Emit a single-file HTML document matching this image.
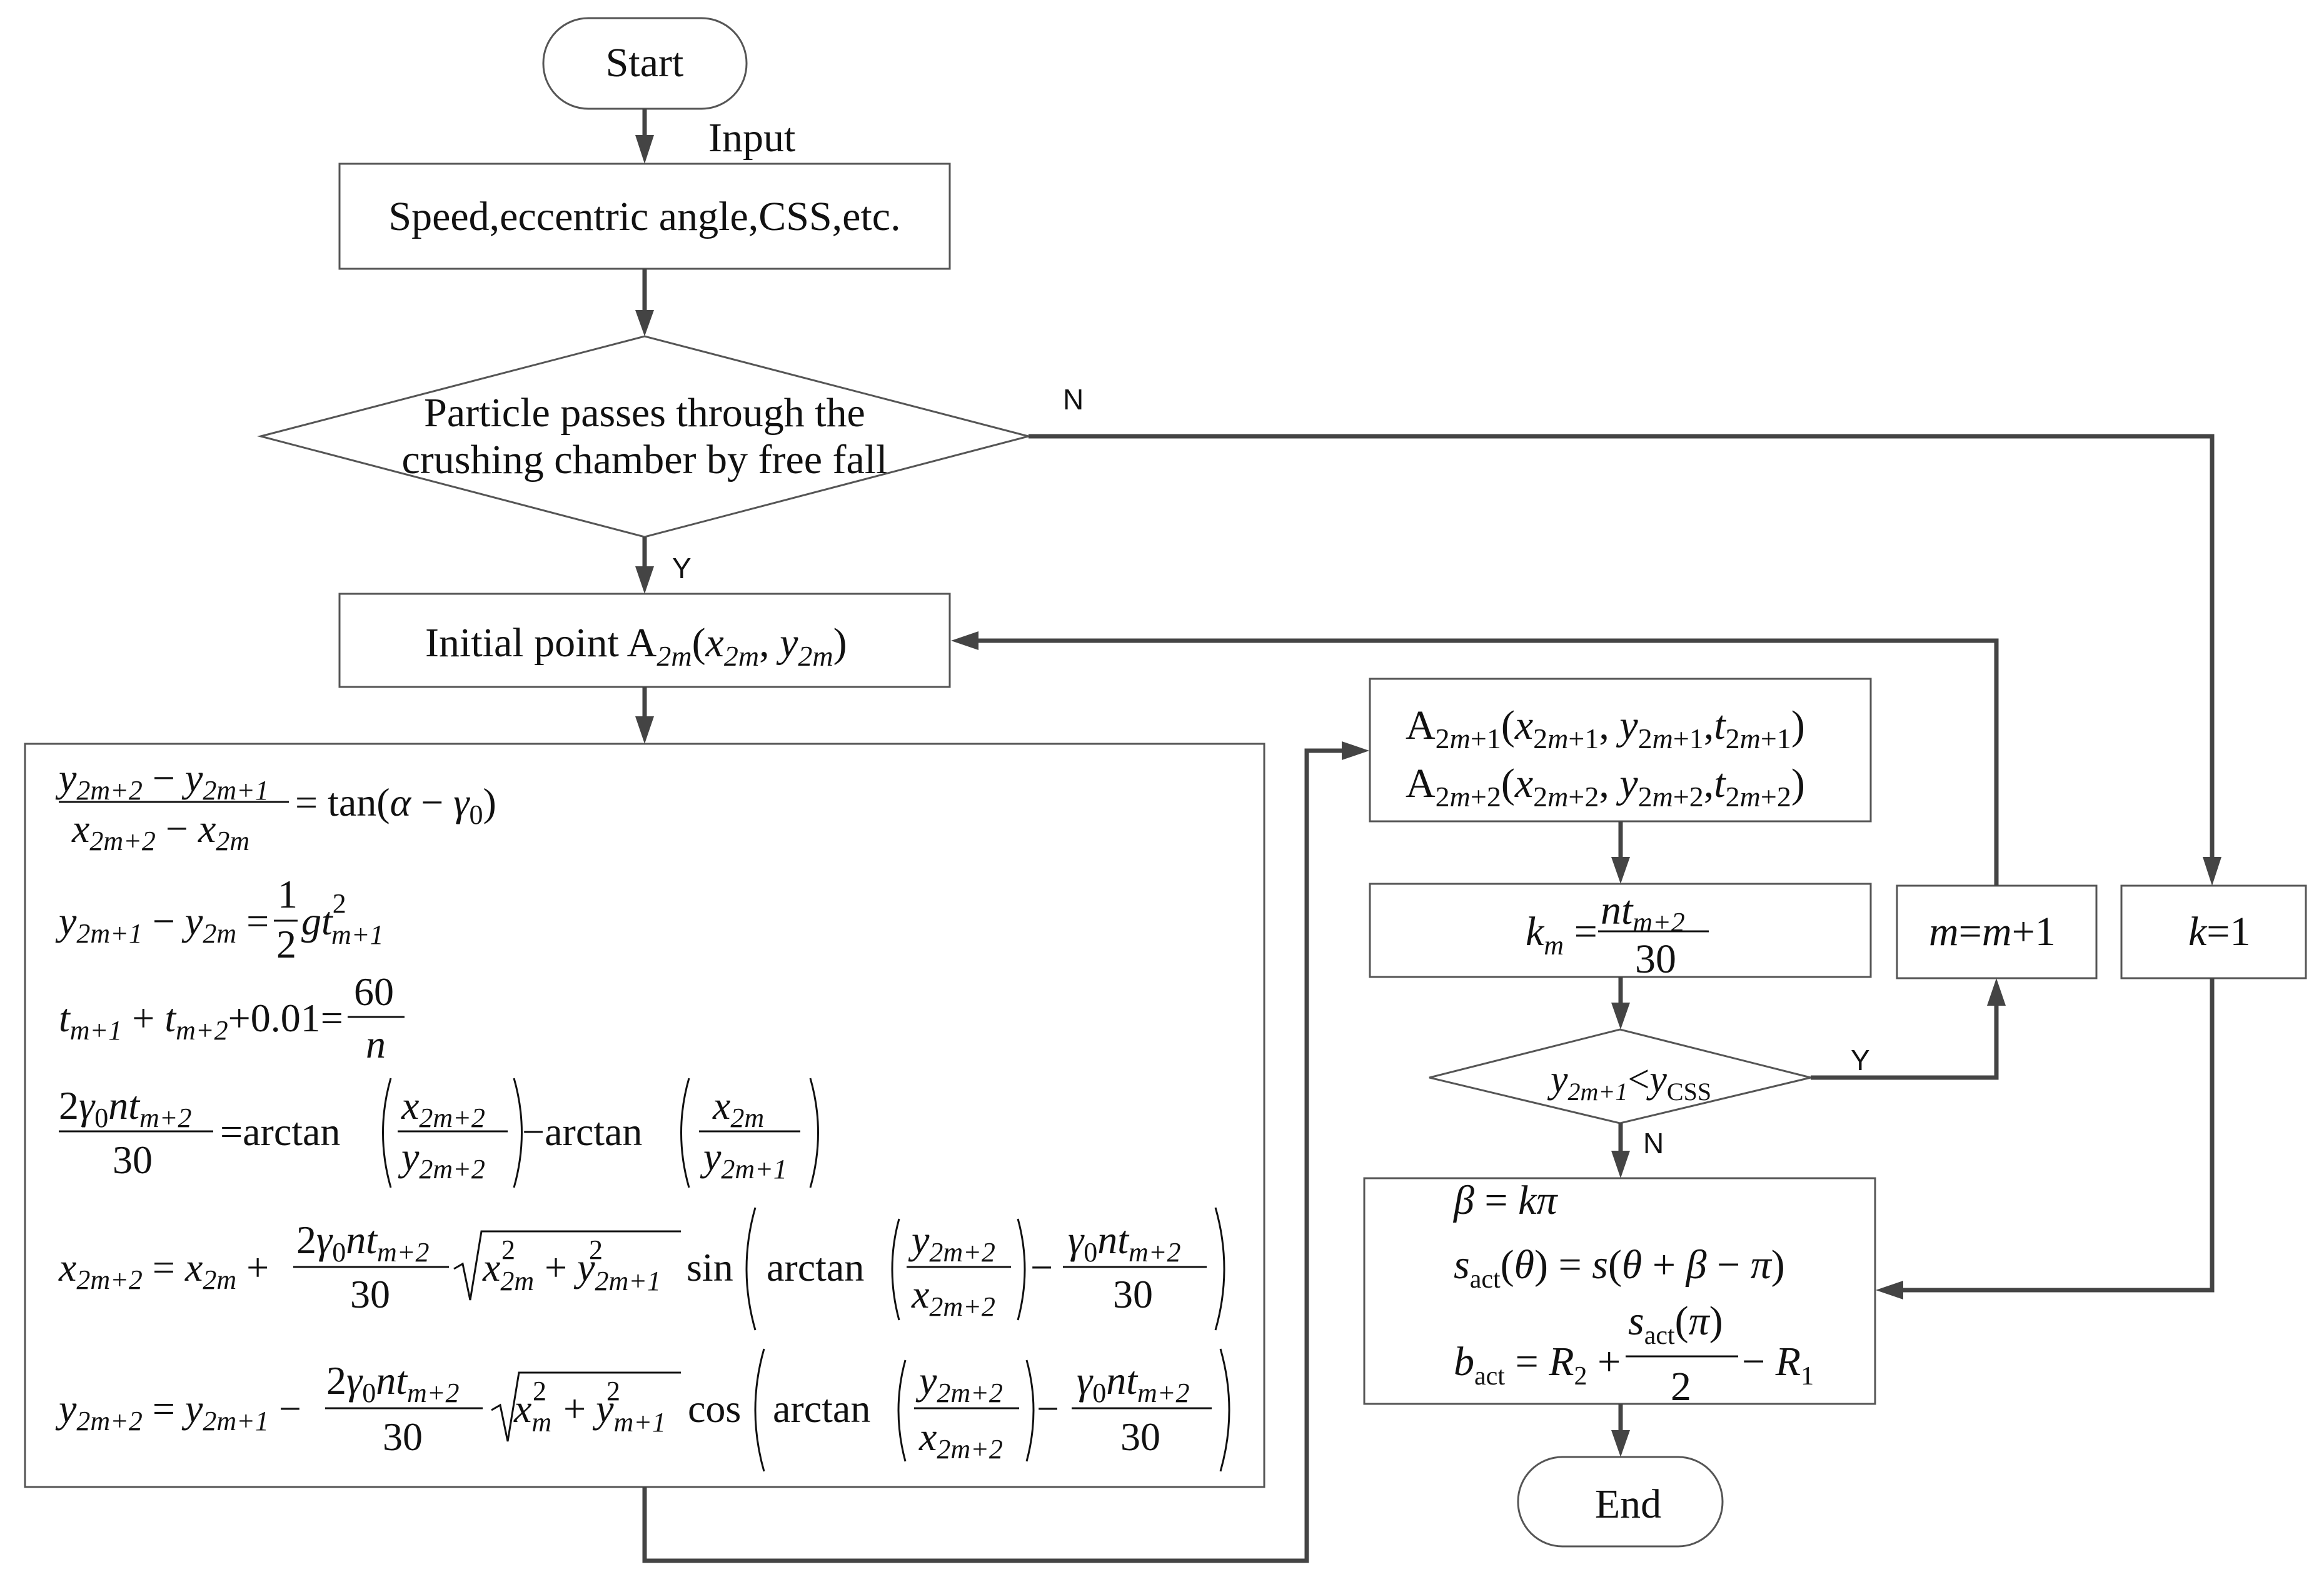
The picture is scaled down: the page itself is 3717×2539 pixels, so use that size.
<!DOCTYPE html>
<html><head><meta charset="utf-8"><style>
html,body{margin:0;padding:0;background:#fff;}
svg{display:block;}
text{font-family:"Liberation Serif",serif;fill:#111;}
.s{font-family:"Liberation Sans",sans-serif;}
.i{font-style:italic;}
</style></head><body>
<svg width="3717" height="2539" viewBox="0 0 3717 2539" xmlns="http://www.w3.org/2000/svg">
<g fill="none" stroke="#555" stroke-width="3">
<rect x="869" y="29" width="325" height="145" rx="72"/>
<rect x="543" y="262" width="976" height="168"/>
<polygon points="417,698 1031,538 1645,698 1031,859"/>
<rect x="543" y="950" width="976" height="149"/>
<rect x="40" y="1190" width="1982" height="1189"/>
<rect x="2191" y="1086" width="801" height="228"/>
<rect x="2191" y="1414" width="801" height="149"/>
<rect x="3034" y="1417" width="319" height="148"/>
<rect x="3393" y="1417" width="295" height="148"/>
<polygon points="2286,1724 2591,1647 2896,1724 2591,1797"/>
<rect x="2182" y="1885" width="817" height="361"/>
<rect x="2428" y="2331" width="327" height="143" rx="71"/>
</g>
<g fill="none" stroke="#444" stroke-width="7">
<path d="M1031 174V220"/><path d="M1031 430V500"/><path d="M1031 859V910"/><path d="M1031 1099V1150"/>
<path d="M1645 698H3538V1375"/>
<path d="M3193 1417V1025H1560"/>
<path d="M1031 2379V2497H2090V1201H2150"/>
<path d="M2592 1314V1375"/><path d="M2592 1563V1608"/><path d="M2592 1797V1845"/><path d="M2592 2246V2292"/>
<path d="M2896 1724H3193V1605"/>
<path d="M3538 1565V2064H3040"/>
</g>
<g fill="#444">
<polygon points="1016,216 1046,216 1031,262"/>
<polygon points="1016,496 1046,496 1031,538"/>
<polygon points="1016,906 1046,906 1031,950"/>
<polygon points="1016,1146 1046,1146 1031,1190"/>
<polygon points="3523,1371 3553,1371 3538,1417"/>
<polygon points="1565,1010 1565,1040 1521,1025"/>
<polygon points="2146,1186 2146,1216 2190,1201"/>
<polygon points="2577,1371 2607,1371 2592,1414"/>
<polygon points="2577,1604 2607,1604 2592,1647"/>
<polygon points="2577,1841 2607,1841 2592,1885"/>
<polygon points="2577,2288 2607,2288 2592,2331"/>
<polygon points="3178,1609 3208,1609 3193,1565"/>
<polygon points="3044,2049 3044,2079 3000,2064"/>
</g>
<g font-size="66">
<text x="1031" y="122" text-anchor="middle">Start</text>
<text x="1133" y="242">Input</text>
<text x="1031" y="368" text-anchor="middle">Speed,eccentric angle,CSS,etc.</text>
<text x="1031" y="682" text-anchor="middle">Particle passes through the</text>
<text x="1031" y="757" text-anchor="middle">crushing chamber by free fall</text>
<text class="s" x="1700" y="655" font-size="46">N</text>
<text class="s" x="1075" y="925" font-size="46">Y</text>
<text class="s" x="2960" y="1712" font-size="46">Y</text>
<text class="s" x="2628" y="1845" font-size="46">N</text>
<text x="680" y="1050">Initial point A<tspan font-size="46" class="i" y="1065">2m</tspan><tspan y="1050">(</tspan><tspan class="i">x</tspan><tspan font-size="46" class="i" y="1065">2m</tspan><tspan y="1050">, </tspan><tspan class="i">y</tspan><tspan font-size="46" class="i" y="1065">2m</tspan><tspan y="1050">)</tspan></text>
<text x="2604" y="2428" text-anchor="middle">End</text>
<text x="2248" y="1182">A<tspan font-size="46" y="1197">2<tspan class="i">m</tspan>+1</tspan><tspan y="1182">(</tspan><tspan class="i">x</tspan><tspan font-size="46" y="1197">2<tspan class="i">m</tspan>+1</tspan><tspan y="1182">, </tspan><tspan class="i">y</tspan><tspan font-size="46" y="1197">2<tspan class="i">m</tspan>+1</tspan><tspan y="1182">,</tspan><tspan class="i">t</tspan><tspan font-size="46" y="1197">2<tspan class="i">m</tspan>+1</tspan><tspan y="1182">)</tspan></text>
<text x="2248" y="1275">A<tspan font-size="46" y="1290">2<tspan class="i">m</tspan>+2</tspan><tspan y="1275">(</tspan><tspan class="i">x</tspan><tspan font-size="46" y="1290">2<tspan class="i">m</tspan>+2</tspan><tspan y="1275">, </tspan><tspan class="i">y</tspan><tspan font-size="46" y="1290">2<tspan class="i">m</tspan>+2</tspan><tspan y="1275">,</tspan><tspan class="i">t</tspan><tspan font-size="46" y="1290">2<tspan class="i">m</tspan>+2</tspan><tspan y="1275">)</tspan></text>
<text x="2440" y="1512"><tspan class="i">k</tspan><tspan class="i" font-size="44" y="1527">m</tspan><tspan y="1512"> =</tspan></text>
<text x="2560" y="1478" class="i">nt<tspan font-size="44" y="1490">m+2</tspan></text>
<line x1="2556" y1="1490" x2="2733" y2="1490" stroke="#111" stroke-width="3"/>
<text x="2615" y="1556">30</text>
<text x="3085" y="1512"><tspan class="i">m</tspan>=<tspan class="i">m</tspan>+1</text>
<text x="3500" y="1512"><tspan class="i">k</tspan>=1</text>
<text x="2480" y="1747" class="i" font-size="62">y<tspan font-size="40" y="1760">2m+1</tspan><tspan y="1747" font-style="normal">&lt;</tspan>y<tspan font-size="40" font-style="normal" y="1760">CSS</tspan></text>
<text x="2325" y="1942" class="i">β <tspan font-style="normal">=</tspan> kπ</text>
<text x="2325" y="2045" class="i">s<tspan font-size="42" font-style="normal" y="2060">act</tspan><tspan y="2045" font-style="normal">(</tspan>θ<tspan font-style="normal">) = </tspan>s<tspan font-style="normal">(</tspan>θ <tspan font-style="normal">+</tspan> β <tspan font-style="normal">−</tspan> π<tspan font-style="normal">)</tspan></text>
<text x="2325" y="2200" class="i">b<tspan font-size="42" font-style="normal" y="2215">act</tspan><tspan y="2200" font-style="normal"> = </tspan>R<tspan font-size="42" font-style="normal" y="2215">2</tspan><tspan y="2200" font-style="normal"> +</tspan></text>
<text x="2604" y="2135" class="i">s<tspan font-size="42" font-style="normal" y="2150">act</tspan><tspan y="2135" font-style="normal">(</tspan>π<tspan font-style="normal">)</tspan></text>
<line x1="2600" y1="2170" x2="2780" y2="2170" stroke="#111" stroke-width="3"/>
<text x="2672" y="2240">2</text>
<text x="2786" y="2200" class="i"><tspan font-style="normal">− </tspan>R<tspan font-size="42" font-style="normal" y="2215">1</tspan></text>
</g>
<g font-size="64" class="i">
<text x="94" y="1266">y<tspan font-size="44" y="1279">2m+2</tspan><tspan y="1266" font-style="normal"> − </tspan>y<tspan font-size="44" y="1279">2m+1</tspan></text>
<line x1="94" y1="1283" x2="462" y2="1283" stroke="#111" stroke-width="3"/>
<text x="115" y="1347">x<tspan font-size="44" y="1360">2m+2</tspan><tspan y="1347" font-style="normal"> − </tspan>x<tspan font-size="44" y="1360">2m</tspan></text>
<text x="472" y="1305"><tspan font-style="normal">= tan(</tspan>α <tspan font-style="normal">−</tspan> γ<tspan font-size="44" font-style="normal" y="1318">0</tspan><tspan y="1305" font-style="normal">)</tspan></text>
<text x="94" y="1495">y<tspan font-size="44" y="1508">2m+1</tspan><tspan y="1495" font-style="normal"> − </tspan>y<tspan font-size="44" y="1508">2m</tspan><tspan y="1495" font-style="normal"> =</tspan></text>
<text x="444" y="1452" font-style="normal">1</text>
<line x1="438" y1="1473" x2="476" y2="1473" stroke="#111" stroke-width="3"/>
<text x="442" y="1532" font-style="normal">2</text>
<text x="482" y="1495">gt<tspan font-size="44" y="1460" font-style="normal">2</tspan><tspan font-size="44" x="530" y="1510">m+1</tspan></text>
<text x="94" y="1650">t<tspan font-size="44" y="1663">m+1</tspan><tspan y="1650" font-style="normal"> + </tspan>t<tspan font-size="44" y="1663">m+2</tspan><tspan y="1650" font-style="normal">+0.01=</tspan></text>
<text x="566" y="1608" font-style="normal">60</text>
<line x1="556" y1="1627" x2="647" y2="1627" stroke="#111" stroke-width="3"/>
<text x="585" y="1692">n</text>
<text x="94" y="1790"><tspan font-style="normal">2</tspan>γ<tspan font-size="44" font-style="normal" y="1803">0</tspan><tspan y="1790">nt</tspan><tspan font-size="44" y="1803">m+2</tspan></text>
<line x1="94" y1="1810" x2="341" y2="1810" stroke="#111" stroke-width="3"/>
<text x="180" y="1877" font-style="normal">30</text>
<text x="352" y="1832" font-style="normal">=arctan</text>
<text x="642" y="1790">x<tspan font-size="44" y="1803">2m+2</tspan></text>
<line x1="636" y1="1810" x2="812" y2="1810" stroke="#111" stroke-width="3"/>
<text x="642" y="1872">y<tspan font-size="44" y="1885">2m+2</tspan></text>
<text x="835" y="1832" font-style="normal">−arctan</text>
<text x="1140" y="1790">x<tspan font-size="44" y="1803">2m</tspan></text>
<line x1="1118" y1="1810" x2="1280" y2="1810" stroke="#111" stroke-width="3"/>
<text x="1125" y="1872">y<tspan font-size="44" y="1885">2m+1</tspan></text>
<text x="94" y="2049">x<tspan font-size="44" y="2062">2m+2</tspan><tspan y="2049" font-style="normal"> = </tspan>x<tspan font-size="44" y="2062">2m</tspan><tspan y="2049" font-style="normal"> +</tspan></text>
<text x="474" y="2005"><tspan font-style="normal">2</tspan>γ<tspan font-size="44" font-style="normal" y="2018">0</tspan><tspan y="2005">nt</tspan><tspan font-size="44" y="2018">m+2</tspan></text>
<line x1="469" y1="2027" x2="718" y2="2027" stroke="#111" stroke-width="3"/>
<text x="560" y="2092" font-style="normal">30</text>
<text x="772" y="2049">x<tspan font-size="44" y="2064">2m</tspan><tspan font-size="44" x="802" y="2014" font-style="normal">2</tspan><tspan y="2049" font-style="normal" x="855"> + </tspan>y<tspan font-size="44" y="2064">2m+1</tspan><tspan font-size="44" x="942" y="2014" font-style="normal">2</tspan></text>
<text x="1098" y="2049" font-style="normal">sin</text>
<text x="1226" y="2049" font-style="normal">arctan</text>
<text x="1458" y="2005">y<tspan font-size="44" y="2018">2m+2</tspan></text>
<line x1="1450" y1="2027" x2="1617" y2="2027" stroke="#111" stroke-width="3"/>
<text x="1458" y="2092">x<tspan font-size="44" y="2105">2m+2</tspan></text>
<text x="1648" y="2049" font-style="normal">−</text>
<text x="1708" y="2005">γ<tspan font-size="44" font-style="normal" y="2018">0</tspan><tspan y="2005">nt</tspan><tspan font-size="44" y="2018">m+2</tspan></text>
<line x1="1700" y1="2027" x2="1930" y2="2027" stroke="#111" stroke-width="3"/>
<text x="1780" y="2092" font-style="normal">30</text>
<text x="94" y="2275">y<tspan font-size="44" y="2288">2m+2</tspan><tspan y="2275" font-style="normal"> = </tspan>y<tspan font-size="44" y="2288">2m+1</tspan><tspan y="2275" font-style="normal"> −</tspan></text>
<text x="522" y="2230"><tspan font-style="normal">2</tspan>γ<tspan font-size="44" font-style="normal" y="2243">0</tspan><tspan y="2230">nt</tspan><tspan font-size="44" y="2243">m+2</tspan></text>
<line x1="520" y1="2253" x2="772" y2="2253" stroke="#111" stroke-width="3"/>
<text x="612" y="2320" font-style="normal">30</text>
<text x="822" y="2275">x<tspan font-size="44" y="2290">m</tspan><tspan font-size="44" x="852" y="2240" font-style="normal">2</tspan><tspan y="2275" font-style="normal" x="885"> + </tspan>y<tspan font-size="44" y="2290">m+1</tspan><tspan font-size="44" x="970" y="2240" font-style="normal">2</tspan></text>
<text x="1100" y="2275" font-style="normal">cos</text>
<text x="1236" y="2275" font-style="normal">arctan</text>
<text x="1470" y="2230">y<tspan font-size="44" y="2243">2m+2</tspan></text>
<line x1="1462" y1="2253" x2="1630" y2="2253" stroke="#111" stroke-width="3"/>
<text x="1470" y="2320">x<tspan font-size="44" y="2333">2m+2</tspan></text>
<text x="1658" y="2275" font-style="normal">−</text>
<text x="1722" y="2230">γ<tspan font-size="44" font-style="normal" y="2243">0</tspan><tspan y="2230">nt</tspan><tspan font-size="44" y="2243">m+2</tspan></text>
<line x1="1714" y1="2253" x2="1938" y2="2253" stroke="#111" stroke-width="3"/>
<text x="1792" y="2320" font-style="normal">30</text>
</g>
<g fill="none" stroke="#111" stroke-width="3">
<path d="M726 2030 L740 2022 L752 2080 L770 1970 H1089"/>
<path d="M786 2256 L800 2248 L812 2306 L830 2196 H1089"/>
<path d="M625 1725 Q600 1812 625 1900"/><path d="M822 1725 Q847 1812 822 1900"/>
<path d="M1102 1725 Q1077 1812 1102 1900"/><path d="M1296 1725 Q1321 1812 1296 1900"/>
<path d="M1208 1932 Q1180 2030 1208 2128"/><path d="M1944 1932 Q1972 2030 1944 2128"/>
<path d="M1438 1950 Q1416 2030 1438 2112"/><path d="M1628 1950 Q1650 2030 1628 2112"/>
<path d="M1222 2158 Q1194 2256 1222 2354"/><path d="M1952 2158 Q1980 2256 1952 2354"/>
<path d="M1448 2176 Q1426 2256 1448 2338"/><path d="M1642 2176 Q1664 2256 1642 2338"/>
</g>
</svg>
</body></html>
